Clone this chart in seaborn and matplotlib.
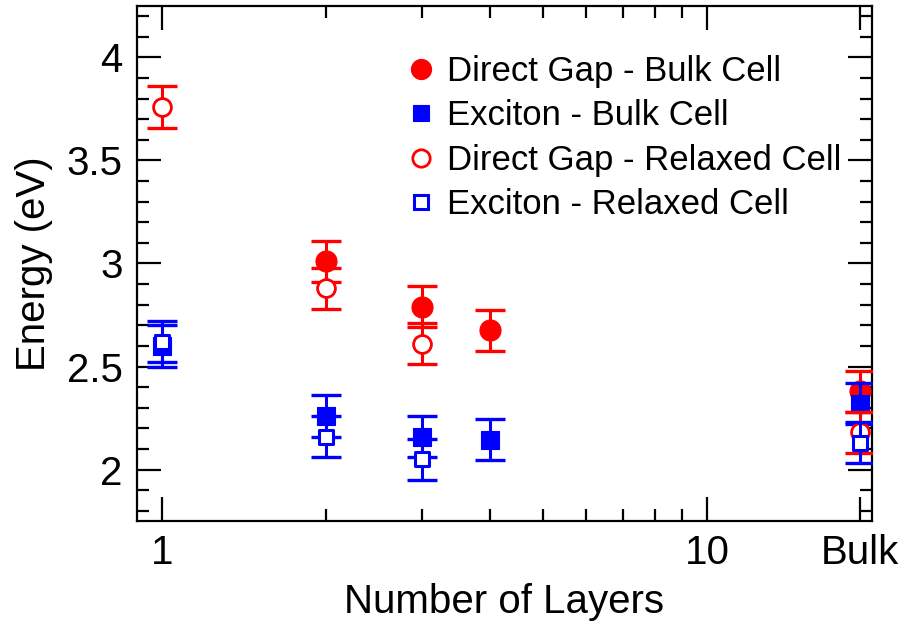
import matplotlib
matplotlib.use("Agg")
import matplotlib.pyplot as plt
import seaborn as sns
from matplotlib.lines import Line2D
from matplotlib.ticker import FixedLocator, FixedFormatter, MultipleLocator, NullFormatter

# Layer counts; the bulk crystal is placed at the right end of the log axis
BULK = 19
layers_gap_bulk = [2, 3, 4, BULK]
direct_gap_bulk = [3.01, 2.79, 2.675, 2.38]

layers_exc_bulk = [1, 2, 3, 4, BULK]
exciton_bulk = [2.60, 2.26, 2.16, 2.145, 2.32]

layers_relaxed = [1, 2, 3, BULK]
direct_gap_relaxed = [3.76, 2.88, 2.61, 2.18]
exciton_relaxed = [2.62, 2.16, 2.05, 2.13]

energy_err = 0.1

x_tick_values = [1, 10, BULK]
x_tick_labels = ["1", "10", "Bulk"]
x_minor_values = [2, 3, 4, 5, 6, 7, 8, 9]

RED = "#ff0000"
BLUE = "#0000ff"

sns.set_style("ticks")
plt.rcParams["font.family"] = ["Liberation Sans", "DejaVu Sans"]
plt.rcParams["text.color"] = "black"
plt.rcParams["axes.labelcolor"] = "black"

fig = plt.figure(figsize=(9.04, 6.23), dpi=100)
ax = fig.add_axes([0.1512, 0.1637, 0.8131, 0.8267])

series = [
    # label, x, y, color, marker, filled, scatter size, edge width, legend size
    ("Direct Gap - Bulk Cell", layers_gap_bulk, direct_gap_bulk, RED, "o", True, 230, 0.8, 14.5),
    ("Exciton - Bulk Cell", layers_exc_bulk, exciton_bulk, BLUE, "s", True, 160, 0.8, 12.0),
    ("Direct Gap - Relaxed Cell", layers_relaxed, direct_gap_relaxed, RED, "o", False, 165, 2.0, 12.5),
    ("Exciton - Relaxed Cell", layers_relaxed, exciton_relaxed, BLUE, "s", False, 100, 2.2, 10.0),
]

handles = []
for i, (label, xs, ys, col, mk, filled, s, lw, ms) in enumerate(series):
    z = 3 + 2 * i
    ax.errorbar(xs, ys, yerr=energy_err, fmt="none", ecolor=col,
                elinewidth=2.2, capsize=10.5, capthick=2.4, zorder=z)
    fc = col if filled else "white"
    sns.scatterplot(x=xs, y=ys, ax=ax, marker=mk, s=s, facecolor=fc,
                    edgecolor=col, linewidth=lw, zorder=z + 1, legend=False)
    handles.append(Line2D([], [], linestyle="none", marker=mk, markersize=ms,
                          markerfacecolor=fc, markeredgecolor=col,
                          markeredgewidth=lw, label=label))

ax.set_xscale("log")
ax.set_xlim(0.9, 20)
ax.set_ylim(1.75, 4.25)

ax.xaxis.set_major_locator(FixedLocator(x_tick_values))
ax.xaxis.set_major_formatter(FixedFormatter(x_tick_labels))
ax.xaxis.set_minor_locator(FixedLocator(x_minor_values))
ax.xaxis.set_minor_formatter(NullFormatter())

ax.yaxis.set_major_locator(MultipleLocator(0.5))
ax.yaxis.set_minor_locator(MultipleLocator(0.1))
ax.set_yticks([2, 2.5, 3, 3.5, 4])
ax.set_yticklabels(["2", "2.5", "3", "3.5", "4"])

ax.tick_params(which="both", direction="in", top=True, right=True,
               color="black", width=1.6, labelsize=29, labelcolor="black")
ax.tick_params(which="major", length=17)
ax.tick_params(which="minor", length=8.5)
ax.tick_params(axis="x", which="major", pad=9)
ax.tick_params(axis="y", which="major", pad=10)

for sp in ax.spines.values():
    sp.set_visible(True)
    sp.set_linewidth(1.6)
    sp.set_color("black")

ax.set_xlabel("Number of Layers", fontsize=29, labelpad=8)
ax.set_ylabel("Energy (eV)", fontsize=29, labelpad=10)

ax.legend(handles=handles, loc="upper left", bbox_to_anchor=(0.368, 0.905),
          frameon=False, fontsize=25, borderpad=0, borderaxespad=0,
          handlelength=0.8, handletextpad=0.35, labelspacing=0.33)

fig.savefig("out.png", dpi=100)
